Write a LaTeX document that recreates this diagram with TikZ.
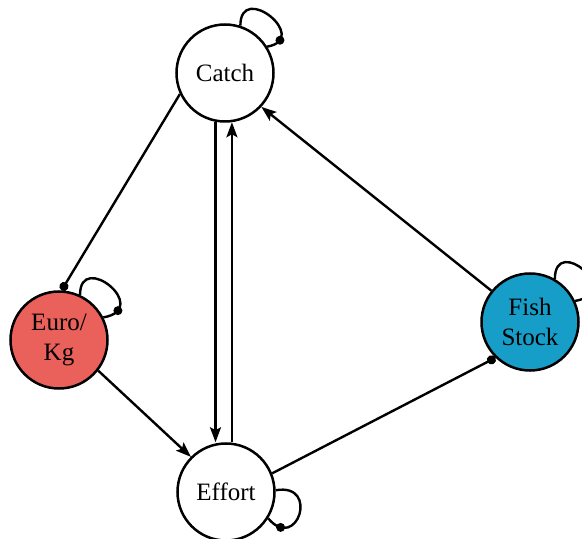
\documentclass[tikz,border=0pt]{standalone}
\usepackage{fontspec}
\setmainfont{Liberation Serif}
\usetikzlibrary{arrows.meta}
\definecolor{eurored}{RGB}{234,96,90}
\definecolor{fishblue}{RGB}{22,158,200}
\begin{document}
\begin{tikzpicture}[x=1pt,y=1pt,
  var/.style={circle, draw, line width=2.5pt, minimum size=97pt, inner sep=0pt,
    align=center, font=\fontsize{25}{30}\selectfont, fill=white},
  link/.style={line width=2.4pt, -{Stealth[length=15pt,width=11pt,inset=3pt]}},
  dotlink/.style={line width=2.4pt, -{Circle[length=9pt]}},
  loopline/.style={line width=2.4pt},
  dotmark/.style={circle, fill=black, inner sep=0pt, minimum size=9pt}
]
\useasboundingbox (0,0) rectangle (582,539);
\clip (0,0) rectangle (582,539);

% variables
\node[var] (catch) at (225,466) {Catch};
\node[var, fill=eurored] (euro) at (59,199) {Euro/\\Kg};
\node[var, fill=fishblue] (fish) at (530,217) {Fish\\Stock};
\node[var] (effort) at (226,47) {Effort};

% self loops
\draw[loopline] (catch.72) .. controls +(90:45) and +(10:45) .. (catch.32)
  node[pos=0.85, dotmark] {};
\draw[loopline] (euro.65) .. controls +(90:45) and +(10:50) .. (euro.27)
  node[pos=0.85, dotmark] {};
\draw[loopline] (fish.60) .. controls +(90:45) and +(10:50) .. (fish.25)
  node[pos=0.85, dotmark] {};
\draw[loopline] (effort.2) .. controls +(10:45) and +(-50:45) .. (effort.-32)
  node[pos=0.85, dotmark] {};

% links between variables
\draw[dotlink] (catch.205) -- (euro.87);
\draw[link] (euro.-38) -- (effort.135);
\draw[link] (catch.259) -- (catch.259 |- effort.north);
\draw[link] (effort.north -| catch.278) -- (catch.278);
\draw[dotlink] (effort.22) -- (fish.226);
\draw[link] (fish.141) -- (catch.317);
\end{tikzpicture}
\end{document}
